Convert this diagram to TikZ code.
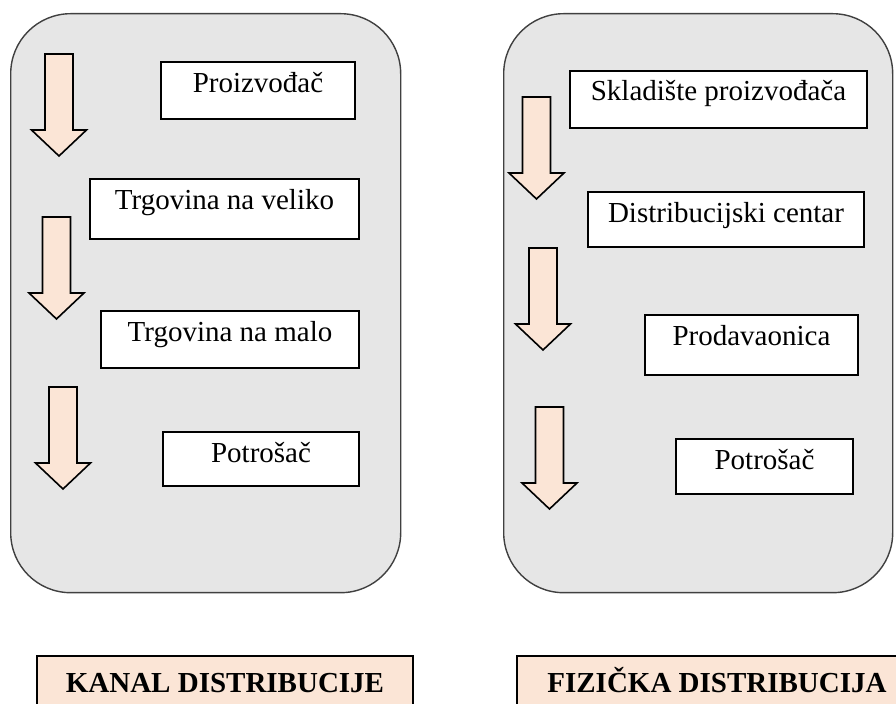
\documentclass[tikz,border=0pt]{standalone}
\usepackage{fontspec}
\setmainfont{Liberation Serif}
\usetikzlibrary{positioning}
\definecolor{peach}{HTML}{FBE5D6}
\definecolor{panelgray}{HTML}{E6E6E6}
\definecolor{panelline}{HTML}{404040}

\tikzset{
  panel/.style={draw=panelline, fill=panelgray, line width=0.7pt, rounded corners=30pt, anchor=north west, inner sep=0pt},
  stage/.style={draw, fill=white, line width=1pt, anchor=north west, inner sep=0pt, text height=15.5pt, font=\fontsize{14.5}{17}\selectfont},
  caption/.style={draw, fill=peach, line width=1pt, anchor=north west, inner sep=0pt, text height=18.5pt, text depth=14pt, font=\fontsize{14.5}{17}\selectfont\bfseries},
  flow/.style={draw=black, fill=peach, line width=0.8pt, line join=miter}
}

\begin{document}
\begin{tikzpicture}[x=0.5pt, y=-0.5pt]
\useasboundingbox (0,0) rectangle (896,704);
\clip (0,0) rectangle (896,704);

% the two panels
\node[panel, minimum width=195pt, minimum height=289.5pt] (kanal) at (10,13) {};
\node[panel, minimum width=194.5pt, minimum height=289.5pt] (fizicka) at (503,13) {};

% kanal distribucije
\node[stage, minimum width=97pt, text depth=13pt] (proizv) at (160,61) {Proizvođač};
\node[stage, minimum width=134.5pt, text depth=14.5pt] (veliko) at (89,178) {Trgovina na veliko};
\node[stage, minimum width=129pt, text depth=13pt] (malo) at (100,310) {Trgovina na malo};
\node[stage, minimum width=98pt, text depth=11.5pt] (potrosac1) at (162,431) {Potrošač};

% fizicka distribucija
\node[stage, minimum width=148.5pt, text height=15pt, text depth=13.5pt] (skladiste) at (569,70) {Skladište proizvođača};
\node[stage, minimum width=138pt, text depth=12pt] (centar) at (587,191) {Distribucijski centar};
\node[stage, minimum width=106.5pt, text depth=14.5pt] (prodav) at (644,314) {Prodavaonica};
\node[stage, minimum width=88.5pt, text depth=12pt] (potrosac2) at (675,438) {Potrošač};

% block arrows
\foreach \cx/\ty in {59/54, 56.5/217, 63/387, 536.5/97, 543/248, 549.5/407}
  \draw[flow] (\cx-14,\ty) -- (\cx+14,\ty) -- (\cx+14,\ty+76) -- (\cx+27.5,\ty+76)
    -- (\cx,\ty+102) -- (\cx-27.5,\ty+76) -- (\cx-14,\ty+76) -- cycle;

% captions
\node[caption, minimum width=188pt] (kanallbl) at (36,655) {KANAL DISTRIBUCIJE};
\node[caption, minimum width=200pt] (fizickalbl) at (516,655) {FIZIČKA DISTRIBUCIJA};
\end{tikzpicture}
\end{document}
